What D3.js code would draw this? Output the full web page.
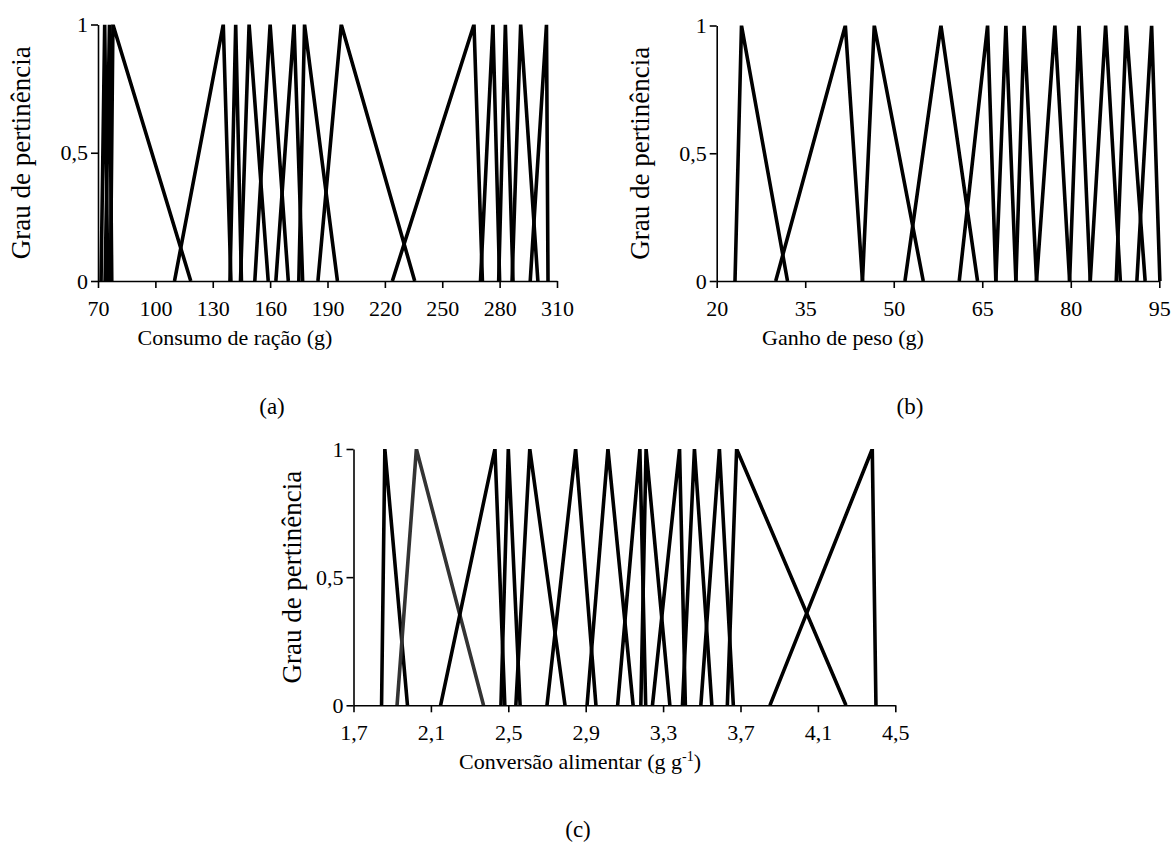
<!DOCTYPE html>
<html>
<head>
<meta charset="utf-8">
<script src="https://cdn.jsdelivr.net/npm/d3@7"></script>
<style>
  body { margin: 0; background: #fff; }
  svg text { font-family: "Liberation Serif", "Times New Roman", serif; fill: #000; }
</style>
</head>
<body>
<svg id="chart" width="1174" height="845"></svg>
<script>
// triangular membership functions [start, peak, end]
var consumoRacao = [
  [71.6, 73.5, 75.1], [73.7, 76, 77.2], [76.5, 77.8, 118.5],
  [110, 135.5, 139.5], [139, 142, 145], [144.5, 149, 159],
  [152, 160, 169.5], [163, 172.5, 177], [175, 178, 195.2],
  [185, 197.2, 235.6], [223.9, 266.6, 271], [270, 276.5, 280],
  [279.5, 283, 287], [286.5, 291, 300], [296, 304.5, 305.3]
];
var ganhoPeso = [
  [23.1, 24.2, 32], [30, 41.8, 44.7], [44.7, 46.7, 55], [51.9, 58, 64.2],
  [61.1, 65.9, 67.3], [67.3, 69, 70.7], [70.7, 72.1, 74.2], [74.2, 77.3, 79.8],
  [79.8, 81.4, 83.3], [83.3, 85.9, 88.4], [87.7, 89.4, 92.6], [91.2, 93.7, 95.1]
];
var conversaoAlimentar = [
  [1.845, 1.862, 1.979], [1.925, 2.025, 2.372], [2.15, 2.431, 2.482],
  [2.462, 2.50, 2.561], [2.539, 2.611, 2.793], [2.70, 2.848, 2.953],
  [2.907, 3.015, 3.145], [3.065, 3.18, 3.21], [3.185, 3.212, 3.335],
  [3.245, 3.385, 3.415], [3.40, 3.462, 3.552], [3.495, 3.591, 3.663],
  [3.632, 3.68, 4.245], [3.852, 4.381, 4.40]
];
var ticksA = [70, 100, 130, 160, 190, 220, 250, 280, 310];
var ticksB = [20, 35, 50, 65, 80, 95];
var ticksC = [1.7, 2.1, 2.5, 2.9, 3.3, 3.7, 4.1, 4.5];
var ticksY = [0, 0.5, 1];

var svg = d3.select("#chart");

var panels = [
  { data: consumoRacao, ticks: ticksA, fmt: d3.format("d"),
    left: 98, right: 557, top: 24.5, bottom: 281,
    yTitleX: 21, titleX: 235, tickY: 316, titleY: 345,
    title: "Consumo de ração (g)", tag: "(a)", tagX: 272, tagY: 414 },
  { data: ganhoPeso, ticks: ticksB, fmt: d3.format("d"),
    left: 716.7, right: 1159.3, top: 25.5, bottom: 281,
    yTitleX: 640, titleX: 843, tickY: 316, titleY: 345,
    title: "Ganho de peso (g)", tag: "(b)", tagX: 910, tagY: 414 },
  { data: conversaoAlimentar, ticks: ticksC, fmt: d3.format(".1f"),
    left: 353.5, right: 895.3, top: 449, bottom: 705.3,
    yTitleX: 292, titleX: 580, tickY: 740, titleY: 769,
    title: "Conversão alimentar (g g", sup: "-1", tag: "(c)", tagX: 578, tagY: 837 }
];

function comma(s) { return s.replace(".", ","); }

panels.forEach(function (p, i) {
  var x = d3.scaleLinear()
    .domain([p.ticks[0], p.ticks[p.ticks.length - 1]])
    .range([p.left, p.right]);
  var y = d3.scaleLinear().domain([0, 1]).range([p.bottom, p.top]);
  var g = svg.append("g");

  var clipId = "clip" + i;
  svg.append("clipPath").attr("id", clipId)
    .append("rect")
    .attr("x", p.left - 20).attr("y", p.top)
    .attr("width", p.right - p.left + 40).attr("height", p.bottom - p.top);

  var line = d3.line()
    .x(function (d) { return x(d[0]); })
    .y(function (d) { return y(d[1]); });

  g.append("g").attr("clip-path", "url(#" + clipId + ")")
    .selectAll("path")
    .data(p.data)
    .enter().append("path")
    .attr("d", function (t) { return line([[t[0], 0], [t[1], 1], [t[2], 0]]); })
    .attr("fill", "none")
    .attr("stroke", function (t, j) { return (i === 2 && j === 1) ? "#333" : "#000"; })
    .attr("stroke-width", 3.6)
    .attr("stroke-linejoin", "miter")
    .attr("stroke-miterlimit", 20);

  var xAxis = g.append("g")
    .attr("transform", "translate(0," + p.bottom + ")")
    .call(d3.axisBottom(x).tickValues(p.ticks).tickSize(7).tickSizeOuter(0)
      .tickFormat(function (d) { return comma(p.fmt(d)); }));
  xAxis.selectAll("text").attr("y", p.tickY - p.bottom - 16);

  var yAxis = g.append("g")
    .attr("transform", "translate(" + p.left + ",0)")
    .call(d3.axisLeft(y).tickValues(ticksY).tickSize(7).tickSizeOuter(0)
      .tickFormat(function (d) { return comma(String(d)); }));
  yAxis.selectAll("text").attr("x", -10);

  [xAxis, yAxis].forEach(function (a) {
    a.selectAll("path, line").attr("stroke", "#000").attr("stroke-width", 1.6);
    a.selectAll("text").style("font-size", "22px")
      .style("font-family", "'Liberation Serif', serif").attr("fill", "#000");
  });

  g.append("text")
    .attr("transform", "translate(" + p.yTitleX + "," + ((p.top + p.bottom) / 2) + ") rotate(-90)")
    .attr("text-anchor", "middle").attr("dy", "0.35em")
    .style("font-size", "27px")
    .text("Grau de pertinência");

  var t = g.append("text")
    .attr("x", p.titleX).attr("y", p.titleY)
    .attr("text-anchor", "middle")
    .style("font-size", "22px")
    .text(p.title);
  if (p.sup) {
    t.append("tspan").attr("dy", -8).style("font-size", "14px").text(p.sup);
    t.append("tspan").attr("dy", 8).text(")");
  }

  g.append("text")
    .attr("x", p.tagX).attr("y", p.tagY)
    .attr("text-anchor", "middle")
    .style("font-size", "23px")
    .text(p.tag);
});
</script>
</body>
</html>
